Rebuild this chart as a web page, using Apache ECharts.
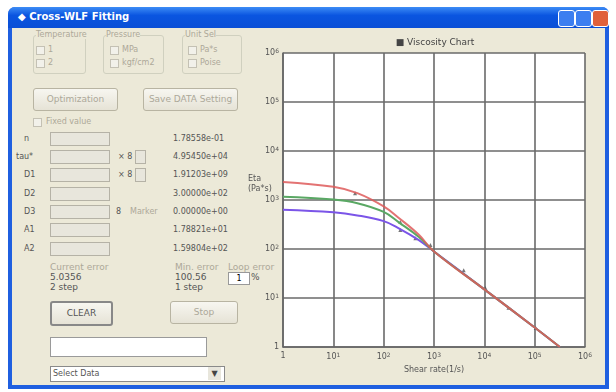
<!DOCTYPE html>
<html><head><meta charset="utf-8">
<script src="https://cdn.jsdelivr.net/npm/echarts@6/dist/echarts.min.js"></script>
<style>
body{margin:0;width:616px;height:392px;background:#fff;overflow:hidden;font-family:"DejaVu Sans",Tahoma,sans-serif;font-size:9px;}
.a{position:absolute;}
.win{left:8px;top:7px;width:601px;height:382px;background:#1f5fe0;border-radius:7px 7px 0 0;}
.tb{left:8px;top:7px;width:601px;height:21px;border-radius:7px 7px 0 0;background:linear-gradient(#3d8cf5,#0a55e0 40%,#0a4fd6);}
.tt{left:18px;top:11px;color:#fff;font-weight:bold;font-size:10px;}
.cl{left:12px;top:28px;width:593px;height:357px;background:#ece9d8;}
.gb{border:1px solid #d0d0bf;border-radius:3px;}
.dis{color:#aca899;}
.txt{color:#555;}
.btn{border:1px solid #b8b4a2;border-radius:3px;background:linear-gradient(#f7f6f0,#e6e3d6);text-align:center;}
.inp{background:#e8e6dc;border:1px solid #b5b2a6;}
.cb{width:7px;height:7px;border:1px solid #c4c1b4;background:#f2f1ea;}
</style></head><body>
<div class="a win"></div>
<div class="a tb"></div>
<div class="a tt">&#9670; Cross-WLF Fitting</div>
<div class="a" style="left:558px;top:10px;width:15px;height:15px;background:#3c7ef0;border:1px solid #fff;border-radius:3px"></div>
<div class="a" style="left:575px;top:10px;width:15px;height:15px;background:#3c7ef0;border:1px solid #fff;border-radius:3px"></div>
<div class="a" style="left:592px;top:10px;width:15px;height:15px;background:#e0603a;border:1px solid #fff;border-radius:3px"></div>
<div class="a cl"></div>

<div class="a gb" style="left:33px;top:35px;width:51px;height:37px"></div>
<div class="a dis" style="left:36px;top:30px;background:#ece9d8;font-size:8px">Temperature</div>
<div class="a cb" style="left:36px;top:46px"></div><div class="a dis" style="left:48px;top:45px;font-size:8px">1</div>
<div class="a cb" style="left:36px;top:59px"></div><div class="a dis" style="left:48px;top:58px;font-size:8px">2</div>
<div class="a gb" style="left:103px;top:35px;width:59px;height:37px"></div>
<div class="a dis" style="left:106px;top:30px;background:#ece9d8;font-size:8px">Pressure</div>
<div class="a cb" style="left:110px;top:46px"></div><div class="a dis" style="left:122px;top:45px;font-size:8px">MPa</div>
<div class="a cb" style="left:110px;top:59px"></div><div class="a dis" style="left:122px;top:58px;font-size:8px">kgf/cm2</div>
<div class="a gb" style="left:182px;top:35px;width:58px;height:37px"></div>
<div class="a dis" style="left:185px;top:30px;background:#ece9d8;font-size:8px">Unit Sel</div>
<div class="a cb" style="left:188px;top:46px"></div><div class="a dis" style="left:200px;top:45px;font-size:8px">Pa*s</div>
<div class="a cb" style="left:188px;top:59px"></div><div class="a dis" style="left:200px;top:58px;font-size:8px">Poise</div>

<div class="a btn dis" style="left:33px;top:88px;width:83px;height:21px;line-height:21px">Optimization</div>
<div class="a btn dis" style="left:143px;top:88px;width:93px;height:21px;line-height:21px">Save DATA Setting</div>
<div class="a cb" style="left:33px;top:118px"></div><div class="a dis" style="left:46px;top:117px;font-size:8px">Fixed value</div>

<div id="rows"></div>

<div class="a dis" style="left:50px;top:262px">Current error</div>
<div class="a txt" style="left:50px;top:272px">5.0356</div>
<div class="a txt" style="left:50px;top:282px">2 step</div>
<div class="a dis" style="left:175px;top:262px">Min. error</div>
<div class="a txt" style="left:175px;top:272px">100.56</div>
<div class="a txt" style="left:175px;top:282px">1 step</div>
<div class="a dis" style="left:228px;top:262px">Loop error</div>
<div class="a" style="left:228px;top:272px;width:20px;height:11px;background:#fff;border:1px solid #999;font-size:8px;text-align:center;line-height:11px">1</div>
<div class="a txt" style="left:251px;top:272px">%</div>
<div class="a btn txt" style="left:50px;top:301px;width:59px;height:21px;line-height:21px;border:2px solid #888">CLEAR</div>
<div class="a btn dis" style="left:170px;top:301px;width:66px;height:21px;line-height:21px">Stop</div>
<div class="a" style="left:50px;top:337px;width:155px;height:18px;background:#fff;border:1px solid #9a9a9a"></div>
<div class="a" style="left:50px;top:366px;width:171px;height:14px;background:#fff;border:1px solid #8a8a8a;color:#555;line-height:14px;font-size:8px;padding-left:2px">Select Data</div>
<div class="a" style="left:208px;top:367px;width:13px;height:13px;background:#e8e6dc;color:#444;font-size:8px;text-align:center;line-height:13px">&#9660;</div>

<div id="chart" class="a" style="left:240px;top:28px;width:366px;height:356px"></div>
<script>
// ---- panel values ----
var paramNames = ['n', 'tau*', 'D1', 'D2', 'D3', 'A1', 'A2'];
var paramValues = ['1.78558e-01', '4.95450e+04', '1.91203e+09', '3.00000e+02', '0.00000e+00', '1.78821e+01', '1.59804e+02'];

// ---- chart data ----
var shearRate = [1, 10, 30, 100, 200, 500, 1000, 10000, 100000, 316000];
var etaRed    = [2340, 1860, 1380, 740, 430, 195, 89, 15, 2.5, 1.0];
var etaGreen  = [1170, 1020, 860, 570, 350, 176, 89, 15, 2.5, 1.0];
var etaPurple = [630, 560, 485, 370, 265, 152, 89, 15, 2.5, 1.0];
var measuredRate = [27, 214, 214, 427, 850, 3890, 10500, 30200, 105000];
var measuredEta  = [1380, 355, 245, 166, 120, 37, 16, 6.3, 2.45];

var rowsHtml = '';
var rowTops = [132, 150, 168, 187, 205, 223, 242];
for (var i = 0; i < paramNames.length; i++) {
  var t = rowTops[i];
  rowsHtml += '<div class="a txt" style="left:' + (i === 1 ? 16 : 24) + 'px;top:' + (t + 2) + 'px;font-size:8px">' + paramNames[i] + '</div>';
  rowsHtml += '<div class="a inp" style="left:50px;top:' + t + 'px;width:58px;height:12px"></div>';
  rowsHtml += '<div class="a txt" style="left:173px;top:' + (t + 2) + 'px;font-size:8px">' + paramValues[i] + '</div>';
}
rowsHtml += '<div class="a txt" style="left:118px;top:152px;font-size:8px">&times; 8</div><div class="a inp" style="left:135px;top:150px;width:9px;height:12px"></div>';
rowsHtml += '<div class="a txt" style="left:118px;top:170px;font-size:8px">&times; 8</div><div class="a inp" style="left:135px;top:168px;width:9px;height:12px"></div>';
rowsHtml += '<div class="a txt" style="left:116px;top:207px;font-size:8px">8</div><div class="a dis" style="left:130px;top:207px;font-size:8px">Marker</div>';
document.getElementById('rows').innerHTML = rowsHtml;

function pairs(xs, ys) { return xs.map(function (x, i) { return [x, ys[i]]; }); }
function powLabel(v) {
  var n = Math.round(Math.log10(v));
  return n === 0 ? '1' : '10{s|' + n + '}';
}
var chart = echarts.init(document.getElementById('chart'));
var lbl = { fontSize: 8, color: '#555', fontFamily: 'DejaVu Sans', rich: { s: { fontSize: 6, verticalAlign: 'top', padding: [0, 0, 4, 0], color: '#555' } } };
chart.setOption({
  animation: false,
  title: { text: '\u25a0 Viscosity Chart', left: 190, top: 5, textAlign: 'center', textStyle: { fontSize: 9, fontWeight: 'normal', color: '#444', fontFamily: 'DejaVu Sans' } },
  grid: { left: 43, top: 25, width: 302, height: 294, show: true, backgroundColor: '#fff', borderWidth: 0 },
  xAxis: {
    type: 'log', logBase: 10, min: 1, max: 1000000,
    name: 'Shear rate(1/s)', nameLocation: 'middle', nameGap: 15,
    nameTextStyle: { fontSize: 8, color: '#555', fontFamily: 'DejaVu Sans' },
    axisLine: { show: true, lineStyle: { color: '#666', width: 1.5 } },
    axisTick: { show: false },
    splitLine: { show: true, lineStyle: { color: '#6a6a6a', width: 1.6 } },
    axisLabel: Object.assign({ formatter: powLabel, margin: 5 }, lbl)
  },
  yAxis: {
    type: 'log', logBase: 10, min: 1, max: 1000000,
    axisLine: { show: true, lineStyle: { color: '#666', width: 1.5 } },
    axisTick: { show: false },
    splitLine: { show: true, lineStyle: { color: '#6a6a6a', width: 1.6 } },
    axisLabel: Object.assign({ formatter: powLabel, margin: 4 }, lbl)
  },
  graphic: [{ type: 'text', left: 8, top: 146, style: { text: 'Eta\n(Pa*s)', fontSize: 8, fill: '#555', align: 'center', lineHeight: 10, fontFamily: 'DejaVu Sans' } }],
  series: [
    { type: 'line', smooth: 0.4, symbol: 'none', data: pairs(shearRate, etaPurple), lineStyle: { color: '#7b55e8', width: 2 } },
    { type: 'line', smooth: 0.4, symbol: 'none', data: pairs(shearRate, etaGreen), lineStyle: { color: '#5aa864', width: 2 } },
    { type: 'line', smooth: 0.4, symbol: 'none', data: pairs(shearRate, etaRed), lineStyle: { color: '#de5a5a', width: 2, opacity: 0.85 } },
    { type: 'scatter', symbol: 'triangle', symbolSize: 4, data: pairs(measuredRate, measuredEta), itemStyle: { color: '#555' } }
  ]
});
</script>
</body></html>
